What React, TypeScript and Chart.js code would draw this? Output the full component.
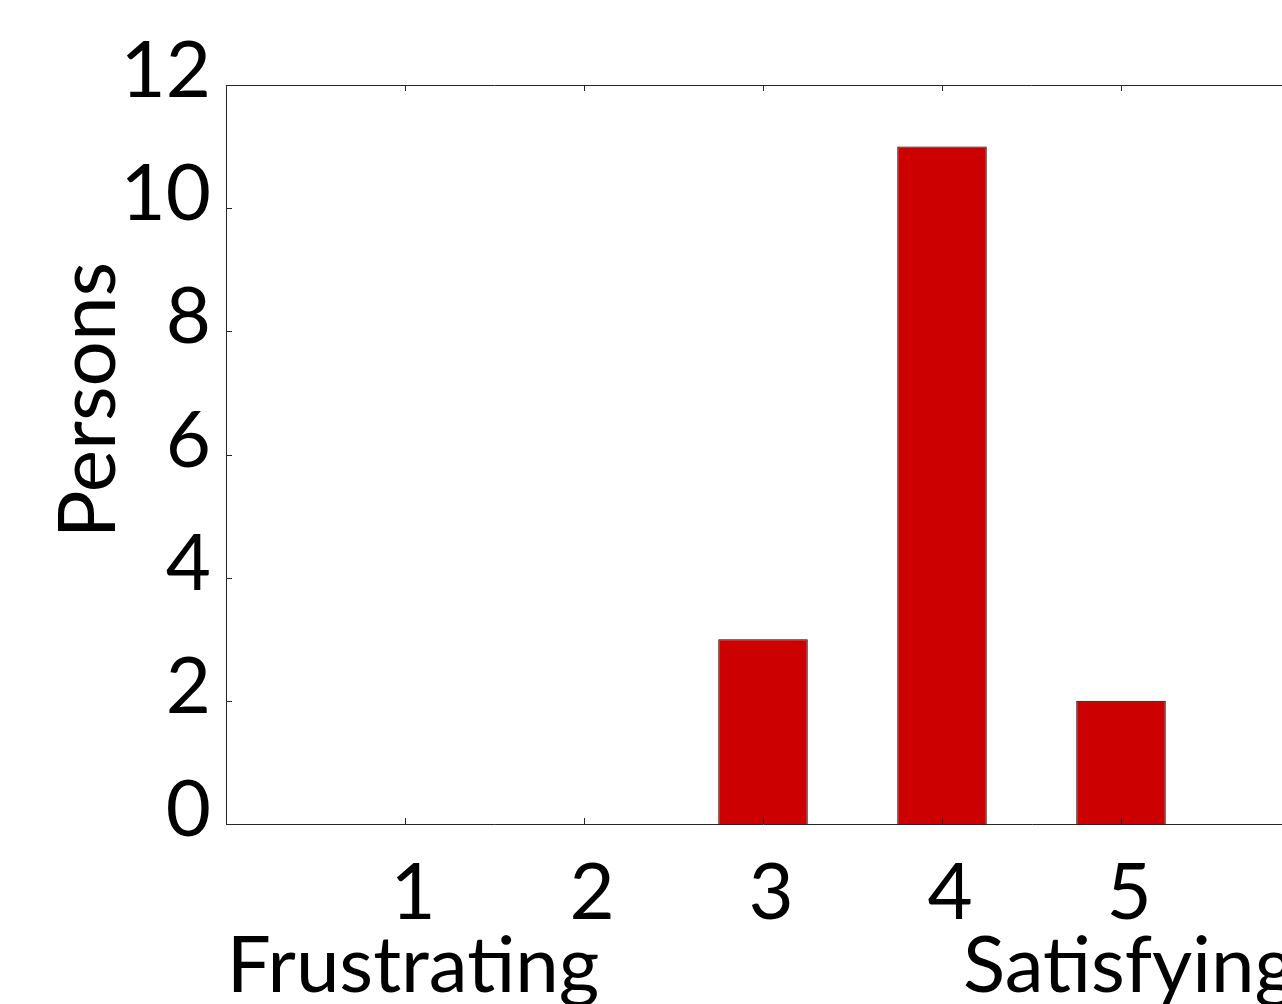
import React, { useEffect, useRef } from "react";
import { Chart, registerables } from "chart.js";

Chart.register(...registerables);

const categories = [1, 2, 3, 4, 5];
const persons = [0, 0, 3, 11, 2];
const tickLabels = ["1", "2", "3", "4", "5"];
const scaleEndLabels = ["Frustrating", "", "", "", "Satisfying"];
const yTicks = [0, 2, 4, 6, 8, 10, 12];
const yTitle = "Persons";

const FONT = "Lato";
const FONT_SIZE = 78;

const boxPlugin = {
  id: "matlabBox",
  afterDatasetsDraw(chart: any) {
    const { ctx, chartArea, scales } = chart;
    const { left, right, top, bottom } = chartArea;
    ctx.save();
    ctx.strokeStyle = "#262626";
    ctx.lineWidth = 1;
    ctx.beginPath();
    ctx.moveTo(left, top + 0.5);
    ctx.lineTo(right, top + 0.5);
    ctx.moveTo(right - 0.5, top);
    ctx.lineTo(right - 0.5, bottom);
    const tl = 6;
    categories.forEach((c) => {
      const x = Math.round(scales.x.getPixelForValue(c)) + 0.5;
      ctx.moveTo(x, bottom);
      ctx.lineTo(x, bottom - tl);
      ctx.moveTo(x, top);
      ctx.lineTo(x, top + tl);
    });
    yTicks.forEach((v) => {
      const y = Math.round(scales.y.getPixelForValue(v)) + 0.5;
      ctx.moveTo(left, y);
      ctx.lineTo(left + tl, y);
      ctx.moveTo(right, y);
      ctx.lineTo(right - tl, y);
    });
    ctx.stroke();
    // rotated y title
    ctx.fillStyle = "#000";
    ctx.font = `${FONT_SIZE + 2}px ${FONT}`;
    ctx.textAlign = "center";
    ctx.textBaseline = "alphabetic";
    ctx.translate(left - 111, top + 315);
    ctx.rotate(-Math.PI / 2);
    ctx.fillText(yTitle, 0, 0);
    ctx.restore();
  },
};

export default function App() {
  const ref = useRef<HTMLCanvasElement | null>(null);
  useEffect(() => {
    if (!ref.current) return;
    const chart = new Chart(ref.current, {
      type: "bar",
      data: {
        datasets: [
          {
            data: categories.map((c, i) => ({ x: c, y: persons[i] })),
            backgroundColor: "#CC0000",
            borderColor: "#000000",
            borderWidth: 1,
            barPercentage: 0.5,
            categoryPercentage: 1,
          },
        ],
      },
      options: {
        animation: false,
        responsive: false,
        devicePixelRatio: 1,
        layout: { padding: { left: 0, top: 85, right: 0, bottom: 0 } },
        plugins: { legend: { display: false }, tooltip: { enabled: false } },
        scales: {
          x: {
            type: "linear",
            min: 0,
            max: 6,
            offset: false,
            grid: { display: false },
            border: { display: true, color: "#262626", width: 1 },
            afterFit: (s: any) => {
              s.height = 180;
            },
            ticks: {
              stepSize: 1,
              autoSkip: false,
              maxRotation: 0,
              padding: 25,
              labelOffset: 8,
              color: "#000",
              font: { family: FONT, size: FONT_SIZE, lineHeight: 0.94 },
              callback: (v: any) => {
                const i = categories.indexOf(Number(v));
                if (i < 0) return "";
                return scaleEndLabels[i] ? [tickLabels[i], scaleEndLabels[i]] : tickLabels[i];
              },
            },
          },
          y: {
            min: 0,
            max: 12,
            grid: { display: false },
            border: { display: true, color: "#262626", width: 1 },
            afterFit: (s: any) => {
              s.width = 226;
            },
            ticks: {
              stepSize: 2,
              padding: 7,
              labelOffset: -13,
              color: "#000",
              font: { family: FONT, size: FONT_SIZE, lineHeight: 1 },
            },
          },
        },
      },
      plugins: [boxPlugin],
    });
    return () => chart.destroy();
  }, []);
  return (
    <div
      style={{
        position: "fixed",
        left: 0,
        top: 0,
        width: 1282,
        height: 1004,
        overflow: "hidden",
        background: "#fff",
      }}
    >
      <canvas ref={ref} width={1325} height={1004} style={{ display: "block" }} />
    </div>
  );
}
